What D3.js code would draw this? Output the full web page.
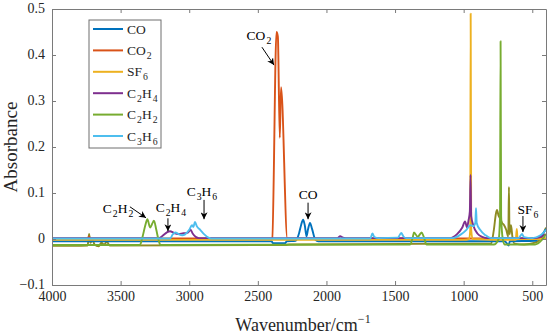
<!DOCTYPE html>
<html>
<head>
<meta charset="utf-8">
<script src="https://cdn.jsdelivr.net/npm/d3@7"></script>
<style>
  body { margin: 0; background: #fff; }
  svg { display: block; font-family: "Liberation Serif", "Times New Roman", serif; }
</style>
</head>
<body>
<div id="chart"></div>
<script>
// spectra, [wavenumber cm^-1, absorbance]
const co = [[4000,-0.005],[2400,-0.005],[2390,-0.009],[2300,-0.009],[2290,-0.005],[2225,-0.004],[2200,0.012],[2185,0.03],[2170,0.042],[2158,0.03],[2145,0.006],[2135,0.02],[2120,0.035],[2105,0.022],[2080,-0.002],[2060,-0.005],[700,-0.005],[672,-0.014],[664,-0.005],[480,-0.004],[440,0.005],[400,0.022]];
const co2 = [[4000,0.001],[3740,0.001],[3730,0.005],[3720,0.001],[2400,0.001],[2395,0.002],[2364,0.45],[2354,0.44],[2340,0.22],[2331,0.33],[2285,0.001],[400,0.001]];
const sf6 = [[4000,-0.002],[1000,-0.002],[960,0.0],[952,0.02],[949,0.49],[945,0.02],[935,0.0],[620,-0.002],[613,0.022],[607,0.0],[400,0.0]];
const c2h4 = [[4000,0.002],[3220,0.002],[3190,0.008],[3160,0.015],[3140,0.017],[3110,0.013],[3080,0.011],[3050,0.012],[3010,0.014],[2990,0.02],[2975,0.012],[2950,0.004],[2930,0.002],[1920,0.002],[1900,0.006],[1880,0.003],[1860,0.002],[1100,0.002],[1050,0.01],[1010,0.025],[990,0.038],[975,0.025],[965,0.04],[955,0.06],[950,0.139],[945,0.05],[930,0.03],[900,0.012],[860,0.004],[830,0.002],[480,0.002],[400,0.01]];
const c2h2 = [[4000,-0.013],[3360,-0.013],[3340,0.005],[3320,0.03],[3305,0.043],[3285,0.025],[3270,0.033],[3257,0.04],[3240,0.02],[3225,0.0],[3210,-0.013],[1390,-0.012],[1370,0.005],[1362,0.014],[1335,0.005],[1306,0.014],[1290,0.004],[1270,-0.012],[780,-0.012],[745,0.0],[735,0.05],[731,0.43],[727,0.05],[715,0.0],[700,-0.012],[480,-0.012],[430,-0.002],[400,0.01]];
const c3h6 = [[4000,0.001],[3140,0.001],[3120,0.01],[3100,0.014],[3080,0.011],[3050,0.008],[3030,0.01],[3000,0.02],[2980,0.03],[2970,0.026],[2958,0.037],[2945,0.028],[2920,0.02],[2890,0.01],[2860,0.003],[2840,0.001],[1680,0.001],[1665,0.012],[1650,0.004],[1620,0.002],[1480,0.003],[1455,0.013],[1440,0.006],[1420,0.002],[1080,0.002],[1020,0.01],[980,0.02],[950,0.03],[930,0.028],[915,0.035],[910,0.067],[905,0.035],[880,0.02],[840,0.008],[800,0.002],[600,0.002],[575,0.011],[560,0.004],[500,0.002],[440,0.008],[400,0.02]];
// background drift (not in legend)
const drift = [[4000,-0.015],[3740,-0.014],[3730,0.011],[3720,-0.008],[3705,-0.002],[3690,-0.012],[3660,-0.016],[3640,-0.008],[3620,-0.012],[3600,-0.006],[3580,-0.014],[2300,-0.013],[2270,-0.012],[1000,-0.01],[800,-0.01],[780,0.02],[765,0.055],[757,0.063],[745,0.05],[735,0.045],[720,0.035],[705,0.03],[690,0.02],[675,0.005],[670,0.113],[666,0.01],[655,0.03],[645,0.005],[630,-0.01],[560,-0.012],[480,-0.008],[430,0.005],[400,0.025]];

const seriesNames = ["CO", "CO2", "SF6", "C2H4", "C2H2", "C3H6"];
const seriesData = [co, co2, sf6, c2h4, c2h2, c3h6];
const seriesColors = ["#0072BD", "#D95319", "#EDB120", "#7E2F8E", "#77AC30", "#4DBEEE"];

const xTicks = [4000, 3500, 3000, 2500, 2000, 1500, 1000, 500];
const yTicks = [-0.1, 0, 0.1, 0.2, 0.3, 0.4, 0.5];

// annotation: label, text anchor [wn, abs], arrow from/to [wn, abs]
const notes = [
  { label: "CO2", at: [2492, 0.433], from: [2470, 0.417], to: [2382, 0.378] },
  { label: "CO", at: [2134, 0.087], from: [2134, 0.079], to: [2134, 0.043] },
  { label: "C2H2", at: [3519, 0.057], from: [3432, 0.070], to: [3315, 0.046] },
  { label: "C2H4", at: [3133, 0.059], from: [3155, 0.045], to: [3155, 0.017] },
  { label: "C3H6", at: [2907, 0.093], from: [2892, 0.085], to: [2892, 0.043] },
  { label: "SF6", at: [531, 0.054], from: [568, 0.050], to: [568, 0.015] }
];

const W = 550, H = 335;
const m = { l: 52, r: 4, t: 9, b: 50 };

const svg = d3.select("#chart").append("svg")
    .attr("width", W).attr("height", H);

const x = d3.scaleLinear().domain([4000, 400]).range([m.l, W - m.r]);
const y = d3.scaleLinear().domain([-0.1, 0.5]).range([H - m.b, m.t]);

const axisColor = "#7a7a7a", textColor = "#262626";

svg.append("defs").append("clipPath").attr("id", "clip")
  .append("rect").attr("x", m.l).attr("y", m.t)
  .attr("width", W - m.l - m.r).attr("height", H - m.t - m.b);

const line = d3.line()
    .x(d => x(d[0]))
    .y(d => y(d[1]))
    .curve(d3.curveMonotoneX);

const plot = svg.append("g").attr("clip-path", "url(#clip)");

plot.append("path").datum(drift)
    .attr("fill", "none").attr("stroke", "#8e8b22")
    .attr("stroke-width", 1.9).attr("stroke-linejoin", "round")
    .attr("d", line);

plot.selectAll(".spec")
  .data(seriesData)
  .join("path")
    .attr("class", "spec")
    .attr("fill", "none")
    .attr("stroke", (d, i) => seriesColors[i])
    .attr("stroke-width", 1.9)
    .attr("stroke-linejoin", "round")
    .attr("d", line);

// axes, MATLAB-ish box with inside ticks
const fmtY = d => d === 0 ? "0" : d3.format(".1f")(d);

const gx = svg.append("g").attr("transform", `translate(0,${H - m.b})`)
    .call(d3.axisBottom(x).tickValues(xTicks).tickSizeInner(-4).tickSizeOuter(0).tickPadding(6).tickFormat(d3.format("d")));
const gxt = svg.append("g").attr("transform", `translate(0,${m.t})`)
    .call(d3.axisTop(x).tickValues(xTicks).tickSizeInner(-4).tickSizeOuter(0).tickFormat(""));
const gy = svg.append("g").attr("transform", `translate(${m.l},0)`)
    .call(d3.axisLeft(y).tickValues(yTicks).tickSizeInner(-4).tickSizeOuter(0).tickPadding(7).tickFormat(fmtY));
const gyr = svg.append("g").attr("transform", `translate(${W - m.r},0)`)
    .call(d3.axisRight(y).tickValues(yTicks).tickSizeInner(-4).tickSizeOuter(0).tickFormat(""));

[gx, gxt, gy, gyr].forEach(g => {
  g.attr("font-family", null);
  g.select(".domain").attr("stroke", axisColor);
  g.selectAll(".tick line").attr("stroke", axisColor);
  g.selectAll(".tick text").attr("fill", textColor).style("font-size", "14px");
});
gy.selectAll(".tick text").attr("dy", "0.28em");

svg.append("text")
    .attr("x", (m.l + W - m.r) / 2 + 4).attr("y", H - 4)
    .attr("text-anchor", "middle").attr("fill", textColor)
    .style("font-size", "18px")
    .call(t => {
      t.append("tspan").text("Wavenumber/cm");
      t.append("tspan").attr("dy", -8).style("font-size", "12px").text("−1");
    });

svg.append("text")
    .attr("transform", `translate(17,147) rotate(-90)`)
    .attr("text-anchor", "middle").attr("fill", textColor)
    .style("font-size", "19px")
    .text("Absorbance");

// chemical formula with subscripts
function formula(sel, label, size) {
  const parts = label.match(/[A-Za-z]+|\d+/g);
  let sub = false;
  parts.forEach(p => {
    const isNum = /\d/.test(p);
    const ts = sel.append("tspan").text(p);
    if (isNum && !sub) { ts.attr("dy", 4).attr("dx", 1).style("font-size", (size * 0.72) + "px"); sub = true; }
    else if (!isNum && sub) { ts.attr("dy", -4).style("font-size", size + "px"); sub = false; }
    else ts.style("font-size", (isNum ? size * 0.72 : size) + "px");
  });
}

// legend
const lg = svg.append("g").attr("transform", "translate(89,20)");
lg.append("rect").attr("width", 72).attr("height", 128)
    .attr("fill", "#fff").attr("stroke", "#6e6e6e").attr("stroke-width", 1);
seriesNames.forEach((name, i) => {
  const yy = 9 + i * 21.4;
  lg.append("line").attr("x1", 4).attr("x2", 34).attr("y1", yy).attr("y2", yy)
    .attr("stroke", seriesColors[i]).attr("stroke-width", 2);
  const t = lg.append("text").attr("x", 38).attr("y", yy + 4.5)
    .attr("fill", textColor).style("font-size", "13.5px");
  formula(t, name, 13.5);
});

// annotations with arrows
const defs = svg.select("defs");
defs.append("marker").attr("id", "head")
    .attr("viewBox", "0 0 10 10").attr("refX", 10).attr("refY", 5)
    .attr("markerWidth", 7).attr("markerHeight", 7)
    .attr("markerUnits", "userSpaceOnUse")
    .attr("orient", "auto")
  .append("path").attr("d", "M0,0 L10,5 L0,10 L3,5 Z").attr("fill", "#000");

notes.forEach(n => {
  svg.append("line")
    .attr("x1", x(n.from[0])).attr("y1", y(n.from[1]))
    .attr("x2", x(n.to[0])).attr("y2", y(n.to[1]))
    .attr("stroke", "#000").attr("stroke-width", 1)
    .attr("marker-end", "url(#head)");
  const t = svg.append("text")
    .attr("x", x(n.at[0])).attr("y", y(n.at[1]))
    .attr("text-anchor", "middle").attr("fill", "#000")
    .style("font-size", "13.5px");
  formula(t, n.label, 13.5);
});
</script>
</body>
</html>
